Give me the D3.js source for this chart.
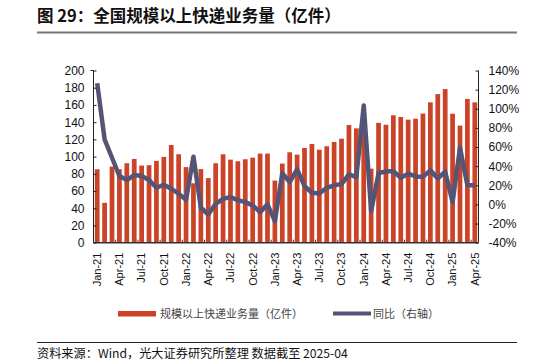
<!DOCTYPE html>
<html><head><meta charset="utf-8">
<script src="https://cdn.jsdelivr.net/npm/d3@7"></script>
<style>
html,body{margin:0;padding:0;background:#fff;}
svg{display:block;}
</style>
</head><body>
<svg id="c" width="549" height="364"></svg>
<script>
const months = ["Jan","Feb","Mar","Apr","May","Jun","Jul","Aug","Sep","Oct","Nov","Dec"];
const categories = [];
for (let y = 21; y <= 25; y++) for (let m = 0; m < 12; m++) { if (y === 25 && m > 3) break; categories.push(months[m] + "-" + y); }
const volume = [85.3,46.3,88.4,85.3,92.3,97.3,89.6,90,95,99.6,113.5,102.7,
  87.8,69,85.5,75,92.3,102.7,96.5,94.6,96.9,98.8,103.5,103.5,
  72.2,91.9,105,102.3,110,114.7,108,112,117,120.8,136.7,132.8,
  132,86,139.2,137,148,146,142.9,144,150,163,172.6,178.4,
  149.8,136,167,163];
const yoy = [126.6,68,48.8,29.7,25.5,30.7,29.7,25.5,17.4,20.6,16.4,11.2,
  4.8,49.9,-3.5,-10.5,0.7,5.9,7.7,4.5,2.4,-1,-8,0,
  -17.4,32.6,23.4,36.6,19.2,12.2,11.5,17.4,19.9,21.3,31.4,28.6,
  103.5,-7,32.8,34.5,34.9,27.9,32.1,29.3,29,35.6,27.2,34.2,
  2.4,59.3,20.2,19.9];
const leftTicks = [0,20,40,60,80,100,120,140,160,180,200];
const rightTicks = [-40,-20,0,20,40,60,80,100,120,140];
const labelMonths = ["Jan","Apr","Jul","Oct"];

const svg = d3.select("#c");
const L = 93.5, R = 478.5, T = 70.5, B = 242.7;
const x = d3.scaleBand().domain(categories).range([L, R]).paddingInner(0.36).paddingOuter(0.18);
const yL = d3.scaleLinear().domain([0, 200]).range([B, T]);
const yR = d3.scaleLinear().domain([-40, 140]).range([B, T]);
const barColor = "#cc4428", lineColor = "#545477";
const font = "'Liberation Sans', Arial, sans-serif";
const cjk = "'Noto Sans CJK SC', 'Noto Sans', sans-serif";

// Title
svg.append("text").attr("x", 37).attr("y", 22).attr("font-family", cjk).attr("font-weight", "bold")
  .attr("font-size", 16.5).attr("fill", "#111").text("图 29：全国规模以上快递业务量（亿件）");
svg.append("line").attr("x1", 37).attr("x2", 517).attr("y1", 32.5).attr("y2", 32.5)
  .attr("stroke", "#777").attr("stroke-width", 2);

// Bars
svg.append("g").selectAll("rect").data(volume).join("rect")
  .attr("x", (d, i) => x(categories[i])).attr("width", x.bandwidth())
  .attr("y", d => yL(d)).attr("height", d => B - yL(d)).attr("fill", barColor);

// Line
const line = d3.line().x((d, i) => x(categories[i]) + x.bandwidth() / 2).y(d => yR(d));
svg.append("path").datum(yoy).attr("d", line).attr("fill", "none")
  .attr("stroke", lineColor).attr("stroke-width", 4.5).attr("stroke-linejoin", "round");

// Left axis
const gl = svg.append("g").attr("transform", `translate(${L},0)`)
  .call(d3.axisLeft(yL).tickValues(leftTicks).tickSize(-3).tickPadding(9));
gl.select(".domain").attr("stroke", "#222").attr("d", `M-3,${T}H0V${B}`);
gl.selectAll("text").attr("font-family", font).attr("font-size", 12).attr("fill", "#111");
gl.selectAll(".tick line").attr("stroke", "#222");

// Right axis
const gr = svg.append("g").attr("transform", `translate(${R},0)`)
  .call(d3.axisRight(yR).tickValues(rightTicks).tickSize(-3).tickPadding(10).tickFormat(d => d + "%"));
gr.select(".domain").attr("stroke", "#222").attr("d", `M0,${T}V${B}`);
gr.selectAll("text").attr("font-family", font).attr("font-size", 12).attr("fill", "#111");
gr.selectAll(".tick line").attr("stroke", "#222");

// Bottom axis
const labelCats = categories.filter(c => labelMonths.includes(c.slice(0, 3)));
const gb = svg.append("g").attr("transform", `translate(0,${B})`)
  .call(d3.axisBottom(x).tickValues(labelCats).tickSize(0).tickPadding(0));
gb.select(".domain").attr("stroke", "#333").attr("stroke-width", 1.5).attr("d", `M${L},0H${R}`);
gb.selectAll("text").attr("font-family", font).attr("font-size", 11).attr("fill", "#111")
  .attr("text-anchor", "end").attr("transform", "rotate(-90)").attr("x", -10).attr("y", 0).attr("dy", "0.35em");
// small inner ticks at band starts
svg.append("g").selectAll("line").data(labelCats.slice(1)).join("line")
  .attr("x1", d => x(d) - x.step() * x.paddingInner() / 2).attr("x2", d => x(d) - x.step() * x.paddingInner() / 2)
  .attr("y1", B).attr("y2", B - 3).attr("stroke", "#333");

// Legend
svg.append("rect").attr("x", 118).attr("y", 311).attr("width", 38).attr("height", 5.5).attr("fill", barColor);
svg.append("text").attr("x", 160).attr("y", 318).attr("font-family", cjk).attr("font-size", 11)
  .attr("fill", "#444").text("规模以上快递业务量（亿件）");
svg.append("line").attr("x1", 333).attr("x2", 371).attr("y1", 313.5).attr("y2", 313.5)
  .attr("stroke", lineColor).attr("stroke-width", 4);
svg.append("text").attr("x", 373).attr("y", 318).attr("font-family", cjk).attr("font-size", 11)
  .attr("fill", "#444").text("同比（右轴）");

// Footer
svg.append("line").attr("x1", 37).attr("x2", 517).attr("y1", 342.5).attr("y2", 342.5)
  .attr("stroke", "#222").attr("stroke-width", 1);
svg.append("text").attr("x", 37).attr("y", 358).attr("font-family", cjk).attr("font-size", 12.2)
  .attr("fill", "#111").text("资料来源：Wind，光大证券研究所整理 数据截至 2025-04");
</script>
</body></html>
